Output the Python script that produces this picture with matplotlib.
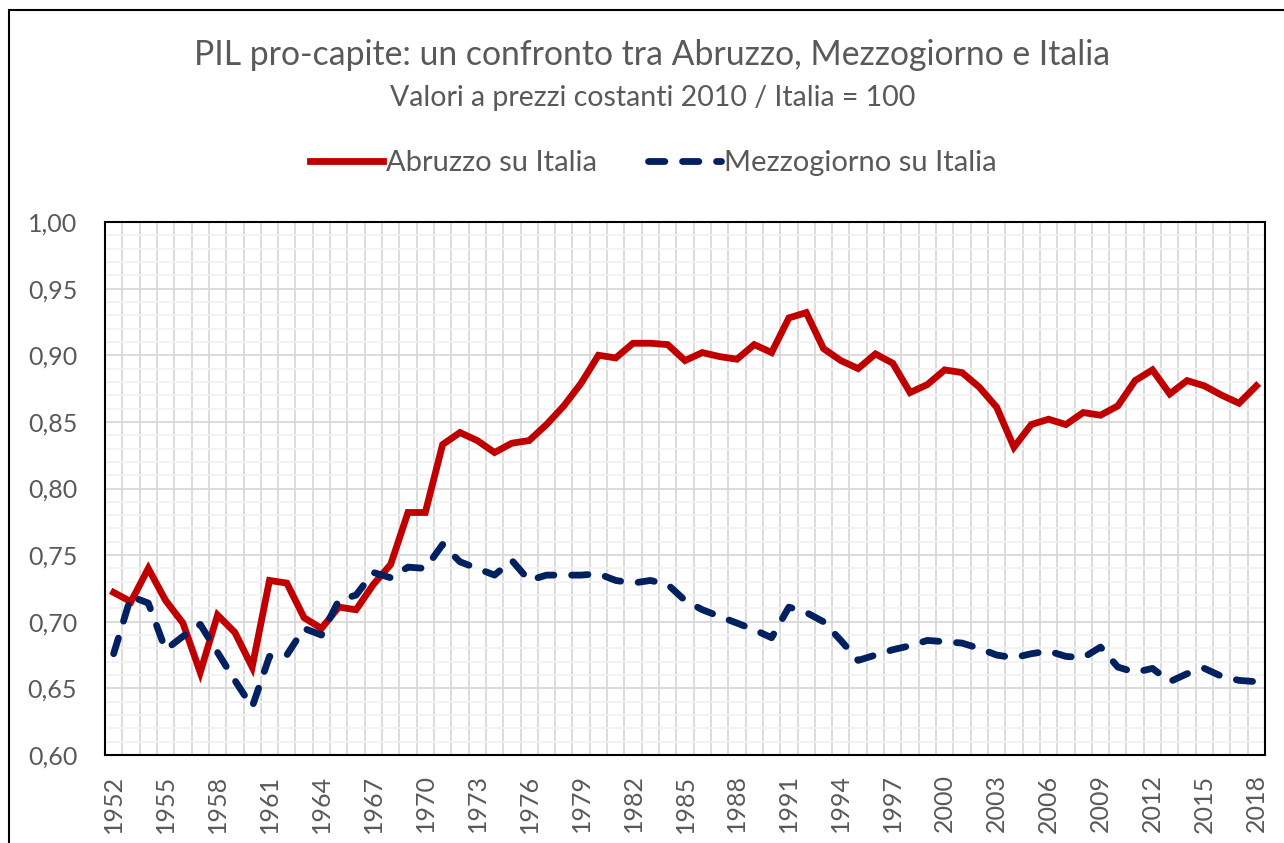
import numpy as np
import matplotlib.pyplot as plt
from matplotlib.ticker import FuncFormatter, MultipleLocator
from matplotlib.patches import Rectangle

years = list(range(1952, 2019))

abruzzo = [0.722, 0.715, 0.740, 0.716, 0.699, 0.662, 0.705, 0.692, 0.666, 0.731,
           0.729, 0.703, 0.695, 0.711, 0.709, 0.728, 0.743, 0.782, 0.782, 0.833,
           0.842, 0.836, 0.827, 0.834, 0.836, 0.848, 0.862, 0.879, 0.900, 0.898,
           0.909, 0.909, 0.908, 0.896, 0.902, 0.899, 0.897, 0.908, 0.902, 0.928,
           0.932, 0.905, 0.896, 0.890, 0.901, 0.894, 0.872, 0.878, 0.889, 0.887,
           0.876, 0.861, 0.831, 0.848, 0.852, 0.848, 0.857, 0.855, 0.862, 0.881,
           0.889, 0.871, 0.881, 0.877, 0.870, 0.864, 0.877]

mezzogiorno = [0.676, 0.719, 0.714, 0.679, 0.689, 0.698, 0.677, 0.656, 0.636, 0.674,
               0.675, 0.695, 0.690, 0.716, 0.720, 0.737, 0.733, 0.741, 0.740, 0.758,
               0.745, 0.740, 0.735, 0.746, 0.731, 0.735, 0.735, 0.735, 0.736, 0.731,
               0.729, 0.731, 0.728, 0.716, 0.709, 0.704, 0.699, 0.694, 0.688, 0.711,
               0.707, 0.700, 0.686, 0.671, 0.675, 0.679, 0.682, 0.686, 0.685, 0.684,
               0.680, 0.675, 0.673, 0.676, 0.678, 0.674, 0.673, 0.681, 0.666, 0.662,
               0.665, 0.655, 0.661, 0.665, 0.659, 0.656, 0.655]

title = "PIL pro-capite: un confronto tra Abruzzo, Mezzogiorno e Italia"
subtitle = "Valori a prezzi costanti 2010 / Italia = 100"

plt.rcParams['font.family'] = ['Lato', 'DejaVu Sans']
grey = '#595959'

fig = plt.figure(figsize=(12.84, 8.43), dpi=100)
ax = fig.add_axes([105 / 1284, 1 - 755 / 843, 1160 / 1284, 533 / 843])

# outer chart border (cut off on right / bottom like the original)
fig.patches.append(Rectangle((9 / 1284, -0.1), 1.2, 1 - 10 / 843 + 0.1,
                             transform=fig.transFigure, fill=False,
                             edgecolor='black', linewidth=1.5))

ax.plot(years, abruzzo, color='#C00000', linewidth=4.9,
        solid_joinstyle='miter', label='Abruzzo su Italia')
ax.plot(years, mezzogiorno, color='#002060', linewidth=4.9,
        dashes=(2.4, 2.6), dash_capstyle='round', label='Mezzogiorno su Italia')

ax.set_xlim(years[0] - 0.5, years[-1] + 0.5)
ax.set_ylim(0.60, 1.00)

ax.set_xticks(years[::3])
ax.set_xticks(np.arange(years[0] - 0.5, years[-1] + 1), minor=True)
ax.yaxis.set_major_locator(MultipleLocator(0.05))
ax.yaxis.set_minor_locator(MultipleLocator(0.01))
ax.yaxis.set_major_formatter(FuncFormatter(lambda v, p: f"{v:.2f}".replace('.', ',')))

ax.grid(axis='x', which='minor', color='#D9D9D9', linewidth=1.3)
ax.grid(axis='y', which='minor', color='#F2F2F2', linewidth=1.3)
ax.grid(axis='y', which='major', color='#D9D9D9', linewidth=1.3)
ax.set_axisbelow(True)

ax.tick_params(which='both', length=0)
ax.tick_params(axis='y', labelsize=18, labelcolor=grey, pad=20)
ax.tick_params(axis='x', labelsize=18, labelcolor=grey, pad=14, labelrotation=90)
for s in ax.spines.values():
    s.set_color('black')
    s.set_linewidth(1.5)

fig.text(0.508, 1 - 55 / 843, title, ha='center', va='center',
         fontsize=24.3, color=grey)
fig.text(0.508, 1 - 98 / 843, subtitle, ha='center', va='center',
         fontsize=20.5, color=grey)

fig.legend(loc='center', bbox_to_anchor=(0.509, 1 - 163 / 843), ncol=2,
           frameon=False, fontsize=21, labelcolor=grey, handlelength=2.5,
           handletextpad=0.1, columnspacing=1.75)

fig.savefig('out.png', dpi=100)
